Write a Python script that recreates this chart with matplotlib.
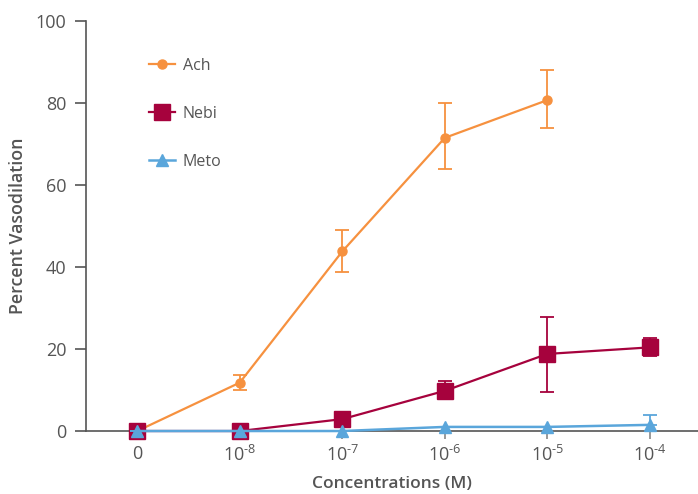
import numpy as np
import matplotlib.pyplot as plt
from matplotlib.lines import Line2D

plt.rcParams['font.family'] = ['Open Sans', 'DejaVu Sans']
plt.rcParams['mathtext.fontset'] = 'custom'
plt.rcParams['mathtext.rm'] = 'Open Sans'

# Koncentracije i odgovori
konc = ['0', r'$\mathregular{10^{\text{-}8}}$', r'$\mathregular{10^{\text{-}7}}$',
        r'$\mathregular{10^{\text{-}6}}$', r'$\mathregular{10^{\text{-}5}}$', r'$\mathregular{10^{\text{-}4}}$']

ach = [0, 11.8, 43.8, 71.5, 80.7]
ach_err_lo = [0, 1.8, 5.0, 7.5, 6.9]
ach_err_hi = [0, 1.9, 5.2, 8.6, 7.3]

nebi = [0, 0, 2.9, 9.8, 18.8, 20.4]
nebi_err_lo = [0, 0, 0, 2.0, 9.2, 2.0]
nebi_err_hi = [0, 0, 0, 2.4, 9.0, 2.2]

meto = [0, 0, 0, 1.0, 1.0, 1.5]
meto_err_lo = [0, 0, 0, 0, 0, 0]
meto_err_hi = [0, 0, 0, 0, 0, 2.3]

c_ach = '#F6913F'
c_nebi = '#A6023D'
c_meto = '#5AA6DB'
siva = '#555555'

fig = plt.figure(figsize=(6.98, 4.94), dpi=100)
ax = fig.add_axes([0.1232, 0.1275, 0.8768, 0.83])

x = np.arange(len(konc))

ax.errorbar(x[:len(ach)], ach, yerr=[ach_err_lo, ach_err_hi], color=c_ach, lw=1.6,
            marker='o', ms=6.5, capsize=5, elinewidth=1.3, capthick=1.3, clip_on=False, zorder=3)
ax.errorbar(x, nebi, yerr=[nebi_err_lo, nebi_err_hi], color=c_nebi, lw=1.6,
            marker='s', ms=11, capsize=5, elinewidth=1.3, capthick=1.3, clip_on=False, zorder=4)
ax.errorbar(x, meto, yerr=[meto_err_lo, meto_err_hi], color=c_meto, lw=1.8,
            marker='^', ms=9, capsize=5, elinewidth=1.3, capthick=1.3, clip_on=False, zorder=5)

ax.set_xlim(-0.5, 5.47)
ax.set_ylim(0, 100)
ax.set_xticks(x)
ax.set_xticklabels(konc)
ax.set_yticks([0, 20, 40, 60, 80, 100])

for s in ['top', 'right']:
    ax.spines[s].set_visible(False)
for s in ['left', 'bottom']:
    ax.spines[s].set_color(siva)
    ax.spines[s].set_linewidth(1.2)

ax.tick_params(axis='y', length=8, width=1.2, color=siva, labelcolor=siva, labelsize=13, pad=6)
ax.tick_params(axis='x', length=6, width=1.2, color='#888888', labelcolor=siva, labelsize=13, pad=4)

ax.set_xlabel('Concentrations (M)', fontsize=12.5, fontweight='semibold', color=siva, labelpad=8)
ax.set_ylabel('Percent Vasodilation', fontsize=12.8, fontweight='semibold', color=siva, labelpad=6)

handles = [
    Line2D([], [], color=c_ach, lw=1.6, marker='o', ms=6.5),
    Line2D([], [], color=c_nebi, lw=1.6, marker='s', ms=11),
    Line2D([], [], color=c_meto, lw=1.8, marker='^', ms=9),
]
ax.legend(handles, ['Ach', 'Nebi', 'Meto'], loc='upper left', bbox_to_anchor=(0.08, 0.945),
          frameon=False, fontsize=11.5, labelcolor=siva, handlelength=1.6, handletextpad=0.5,
          labelspacing=2.0)

plt.savefig('out.png', dpi=100)
